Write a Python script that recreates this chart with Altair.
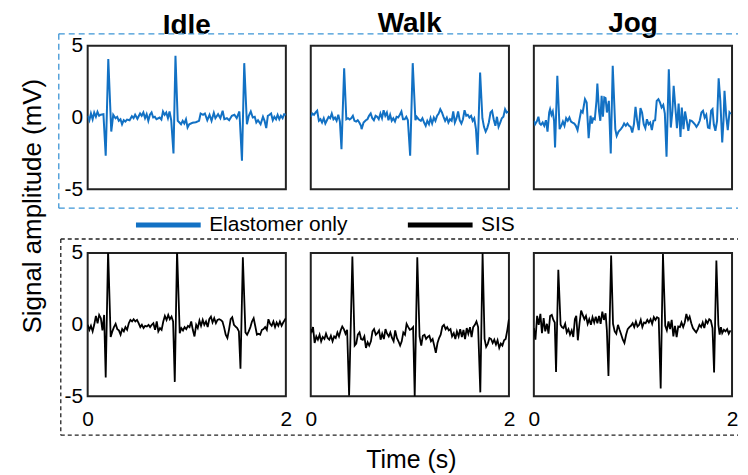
import altair as alt
import pandas as pd

FONT = "Liberation Sans, Arial, sans-serif"
BLUE = "#1271c4"
BOX_BLUE = "#3d95d6"

activities = ["Idle", "Walk", "Jog"]
series_names = ["Elastomer only", "SIS"]

# ---- Elastomer only (top row) ----
idle_elastomer_t = [0.000,0.017,0.033,0.050,0.066,0.083,0.099,0.116,0.132,0.159,0.182,0.208,0.238,0.258,0.281,0.298,0.314,0.331,0.347,0.364,0.380,0.397,0.423,0.446,0.463,0.479,0.502,0.529,0.545,0.562,0.579,0.595,0.612,0.628,0.645,0.661,0.678,0.694,0.727,0.744,0.760,0.777,0.793,0.810,0.826,0.843,0.866,0.886,0.909,0.926,0.942,0.959,0.975,0.992,1.008,1.025,1.058,1.091,1.124,1.140,1.164,1.183,1.207,1.230,1.250,1.273,1.289,1.316,1.339,1.362,1.379,1.405,1.428,1.455,1.481,1.504,1.531,1.557,1.580,1.607,1.626,1.646,1.666,1.686,1.702,1.719,1.745,1.769,1.785,1.802,1.818,1.835,1.851,1.868,1.884,1.901,1.917,1.934,1.950,1.967,1.983,2.000]
idle_elastomer_mv = [0.12,-0.19,0.28,-0.12,0.35,0.05,0.40,0.12,0.19,0.23,-2.67,4.07,-0.98,0.19,-0.05,0.05,-0.23,-0.12,-0.47,-0.19,-0.28,-0.14,-0.19,0.09,-0.05,0.19,-0.09,0.28,0.12,0.35,-0.05,0.23,-0.23,0.19,0.35,0.00,0.05,-0.12,0.00,-0.14,0.42,0.19,0.35,-0.05,0.42,-0.19,-2.51,4.30,-0.23,-0.35,-0.47,-0.23,-0.42,-0.12,-0.70,-0.47,-0.37,-0.33,-0.23,0.28,0.19,0.28,-0.19,0.19,-0.23,0.33,-0.05,0.23,-0.05,0.47,-0.12,-0.05,-0.19,0.12,0.19,-0.05,0.42,-3.02,3.79,-0.47,0.12,0.42,0.00,0.05,-0.35,-0.19,-0.47,0.05,-0.23,-0.74,0.12,0.19,0.28,-0.19,0.05,-0.12,0.19,-0.12,0.12,-0.05,0.23,0.19]

walk_elastomer_t = [0.000,0.016,0.033,0.049,0.065,0.082,0.098,0.114,0.131,0.147,0.163,0.180,0.196,0.212,0.229,0.245,0.261,0.278,0.294,0.310,0.337,0.359,0.376,0.392,0.408,0.425,0.441,0.458,0.474,0.490,0.507,0.513,0.533,0.556,0.572,0.588,0.605,0.621,0.637,0.654,0.670,0.686,0.703,0.719,0.735,0.752,0.768,0.784,0.801,0.817,0.833,0.850,0.866,0.882,0.899,0.915,0.931,0.948,0.964,0.980,1.003,1.029,1.056,1.069,1.088,1.111,1.127,1.144,1.160,1.176,1.193,1.209,1.225,1.242,1.258,1.275,1.291,1.307,1.324,1.340,1.356,1.373,1.389,1.405,1.422,1.438,1.454,1.471,1.487,1.503,1.520,1.536,1.552,1.569,1.585,1.601,1.618,1.634,1.650,1.667,1.683,1.709,1.732,1.748,1.765,1.781,1.797,1.814,1.830,1.846,1.863,1.879,1.895,1.912,1.928,1.944,1.961,1.977,1.993]
walk_elastomer_mv = [0.05,0.28,0.19,0.35,0.47,-0.23,-0.12,-0.35,-0.05,-0.42,-0.19,0.05,-0.05,0.28,-0.12,0.00,-0.23,0.19,-0.28,-2.21,3.44,-0.12,-0.05,-0.14,-0.05,0.12,-0.23,-0.28,-0.19,-0.35,-0.58,-0.81,-0.35,-0.19,-0.12,0.12,0.28,-0.05,-0.19,0.12,0.05,-0.12,0.28,-0.05,0.51,0.12,0.35,-0.19,0.19,-0.23,-0.05,-0.28,0.05,0.00,0.19,0.42,-0.12,-0.12,0.05,-0.19,-2.67,3.79,-0.19,0.05,-0.12,-0.23,-0.05,-0.35,-0.58,-0.23,-0.47,-0.05,-0.42,0.00,-0.23,0.12,0.28,0.58,0.35,0.05,-0.23,0.00,-0.35,-0.12,-0.23,0.42,-0.35,-0.05,0.42,-0.19,-0.42,-0.12,0.51,0.12,0.19,0.00,0.12,-0.23,-0.05,-0.81,-2.60,3.14,-0.05,-0.65,-0.98,-0.74,-0.35,0.35,0.47,-0.12,-0.58,0.05,-0.65,-0.35,-0.05,0.05,0.58,0.35,0.42]

jog_elastomer_t = [0.000,0.013,0.033,0.046,0.059,0.072,0.089,0.105,0.122,0.138,0.155,0.164,0.178,0.191,0.204,0.214,0.237,0.260,0.276,0.293,0.309,0.326,0.342,0.359,0.375,0.391,0.408,0.424,0.441,0.461,0.477,0.493,0.516,0.533,0.553,0.572,0.586,0.599,0.615,0.632,0.641,0.658,0.671,0.684,0.697,0.711,0.724,0.737,0.757,0.776,0.796,0.822,0.836,0.855,0.878,0.895,0.911,0.928,0.944,0.961,0.977,0.993,1.010,1.026,1.043,1.059,1.076,1.092,1.109,1.125,1.141,1.158,1.174,1.191,1.207,1.224,1.240,1.257,1.273,1.289,1.306,1.322,1.339,1.362,1.382,1.398,1.411,1.428,1.444,1.461,1.480,1.493,1.510,1.526,1.543,1.559,1.576,1.592,1.609,1.625,1.641,1.658,1.674,1.691,1.707,1.724,1.740,1.757,1.773,1.789,1.803,1.816,1.832,1.849,1.865,1.882,1.901,1.914,1.924,1.941,1.957,1.974,1.987]
jog_elastomer_mv = [-0.23,-0.47,-0.23,0.05,-0.42,-0.51,-0.35,-0.58,-0.19,-0.98,0.35,0.58,0.19,0.42,-0.23,-2.09,2.91,-0.81,-0.58,-0.28,-0.58,-0.05,-0.23,0.00,-0.28,-0.35,-0.42,-0.58,-0.88,-0.12,0.47,0.35,1.28,1.05,-1.44,0.12,-0.42,-0.05,-0.12,1.16,2.37,0.42,-0.23,1.51,0.05,1.40,1.35,0.35,1.16,-2.51,3.60,-0.81,-1.28,-0.98,-0.81,-0.65,-0.42,-0.58,-0.42,-0.58,-0.65,-1.05,-0.47,0.74,-0.23,-0.88,0.65,0.35,-0.47,-0.74,-0.12,-0.47,-0.35,-0.88,-0.23,-0.19,1.16,1.28,1.05,0.70,0.88,0.28,-2.74,3.37,-0.70,0.42,2.21,0.70,-0.74,0.98,-1.35,0.70,-0.81,0.42,-0.23,-0.93,-0.19,-0.23,-0.35,-0.47,-0.65,-0.47,-0.23,0.35,0.47,0.00,0.19,-0.70,-0.74,0.47,0.58,-0.47,-0.93,-0.23,2.74,1.16,-1.74,-0.23,1.86,0.12,-0.88,0.35,0.23]

# ---- SIS (bottom row) ----
idle_sis_t = [0.000,0.017,0.033,0.050,0.066,0.083,0.100,0.116,0.133,0.149,0.166,0.182,0.206,0.232,0.249,0.265,0.282,0.299,0.315,0.332,0.348,0.365,0.381,0.398,0.415,0.431,0.448,0.464,0.481,0.498,0.514,0.531,0.547,0.564,0.580,0.597,0.614,0.630,0.647,0.663,0.680,0.697,0.713,0.730,0.746,0.763,0.779,0.796,0.813,0.829,0.846,0.862,0.879,0.902,0.929,0.945,0.962,0.978,0.995,1.012,1.028,1.045,1.061,1.078,1.095,1.111,1.128,1.144,1.161,1.177,1.194,1.211,1.227,1.244,1.260,1.277,1.294,1.310,1.327,1.343,1.360,1.376,1.393,1.410,1.426,1.443,1.459,1.476,1.493,1.509,1.526,1.542,1.566,1.592,1.609,1.625,1.642,1.658,1.675,1.692,1.708,1.725,1.741,1.758,1.774,1.791,1.808,1.824,1.841,1.857,1.874,1.891,1.907,1.924,1.940,1.957,1.973,2.000]
idle_sis_mv = [0.00,-0.36,-0.08,-0.47,-0.01,0.61,0.10,0.68,0.45,-0.40,0.68,-3.69,5.20,-0.86,-0.47,-0.17,0.06,-0.31,-0.40,-0.70,-0.31,-0.47,-0.17,-0.36,0.10,0.33,0.22,0.38,0.22,0.33,0.10,-0.17,-0.01,-0.24,-0.08,-0.13,-0.01,-0.17,-0.01,0.10,-0.36,0.22,-0.47,-0.24,-0.36,0.22,0.61,0.33,0.68,0.38,0.56,0.22,-3.99,5.20,-0.59,-0.24,-0.40,-0.17,-0.31,-0.08,-0.17,0.22,-0.36,-0.82,-0.01,-0.24,0.29,-0.08,0.33,-0.01,0.22,-0.17,0.38,0.56,0.15,0.45,0.10,0.33,0.38,0.33,0.22,-0.17,-0.70,-0.93,-0.36,0.38,0.52,-0.01,-0.13,-0.24,-0.47,-3.07,4.70,-0.54,-0.70,-0.47,-0.17,0.22,0.45,-0.13,-0.70,-0.63,-0.70,-0.36,-0.31,-0.17,-0.36,0.38,0.06,-0.08,0.22,-0.17,0.15,-0.08,0.22,-0.08,0.15,0.45]

walk_sis_t = [0.000,0.010,0.023,0.039,0.056,0.072,0.089,0.105,0.121,0.138,0.154,0.170,0.187,0.203,0.220,0.236,0.252,0.269,0.285,0.302,0.318,0.334,0.351,0.367,0.387,0.420,0.443,0.459,0.475,0.492,0.508,0.525,0.541,0.557,0.574,0.590,0.607,0.623,0.639,0.656,0.672,0.689,0.705,0.721,0.738,0.754,0.770,0.787,0.803,0.820,0.836,0.852,0.869,0.885,0.902,0.918,0.934,0.951,0.967,0.984,1.000,1.016,1.033,1.049,1.075,1.098,1.115,1.131,1.148,1.164,1.180,1.197,1.213,1.230,1.246,1.262,1.279,1.295,1.311,1.328,1.344,1.361,1.377,1.393,1.410,1.426,1.443,1.459,1.475,1.492,1.508,1.525,1.541,1.557,1.574,1.590,1.607,1.623,1.639,1.656,1.672,1.689,1.711,1.734,1.754,1.770,1.787,1.803,1.820,1.836,1.852,1.869,1.885,1.902,1.918,1.934,1.951,1.967,1.984,2.000]
walk_sis_mv = [-0.31,-0.47,-0.17,-1.28,-0.82,-1.05,-0.70,-1.16,-0.86,-1.00,-0.63,-0.93,-1.05,-0.77,-1.16,-0.82,-0.93,-0.54,-0.82,-0.40,-0.13,-0.31,-0.63,-0.36,-4.95,4.75,-1.46,-1.32,-0.70,-0.54,-1.00,-1.05,-0.82,-1.62,-1.23,-1.46,-1.16,-0.47,-0.31,-0.70,-0.59,-0.40,-1.05,-0.63,-1.00,-0.31,-0.63,-0.82,-0.54,-0.93,-1.16,-0.40,-0.93,-1.16,-1.46,-1.16,-0.54,-0.70,0.06,-0.17,-0.36,-0.31,-0.17,-5.00,4.70,-0.82,-1.46,-0.77,-0.70,-1.00,-0.86,-0.77,-1.16,-1.00,-1.46,-1.97,-1.28,-0.93,-0.70,-0.13,-0.01,-0.31,-0.17,-0.40,-0.31,-0.82,-0.59,-1.00,-0.47,-0.82,-0.31,-0.86,-0.36,-1.00,-0.24,-0.63,-0.17,-0.86,-0.17,-0.01,0.22,-0.17,-4.72,4.98,-1.00,-1.55,-1.32,-0.93,-1.00,-1.28,-1.05,-1.39,-1.09,-1.62,-1.32,-1.46,-1.09,-1.00,-0.36,0.38]

jog_sis_t = [0.000,0.016,0.033,0.049,0.066,0.082,0.099,0.115,0.132,0.148,0.164,0.181,0.197,0.211,0.224,0.247,0.270,0.283,0.299,0.316,0.332,0.349,0.365,0.382,0.398,0.414,0.428,0.444,0.461,0.477,0.493,0.510,0.526,0.543,0.559,0.576,0.592,0.609,0.625,0.641,0.658,0.674,0.691,0.707,0.724,0.737,0.753,0.780,0.799,0.816,0.832,0.849,0.865,0.882,0.898,0.914,0.931,0.947,0.964,0.980,0.997,1.013,1.030,1.046,1.063,1.079,1.095,1.112,1.128,1.145,1.161,1.178,1.194,1.211,1.227,1.243,1.260,1.280,1.303,1.326,1.342,1.359,1.375,1.391,1.408,1.424,1.441,1.457,1.474,1.490,1.507,1.523,1.539,1.556,1.572,1.589,1.605,1.622,1.638,1.655,1.671,1.688,1.704,1.720,1.737,1.753,1.770,1.786,1.803,1.819,1.842,1.862,1.875,1.888,1.901,1.918,1.934,1.951,1.967,1.984]
jog_sis_mv = [-0.24,-1.05,0.61,-0.01,0.75,-0.59,0.45,-0.47,0.06,-0.63,0.61,0.68,0.33,0.15,-3.30,3.83,-0.01,-0.17,-0.24,0.06,-0.54,-0.31,-0.70,-0.40,-0.86,0.38,0.61,-1.09,0.10,0.98,0.68,0.38,0.61,0.06,0.38,-0.01,0.52,0.15,0.56,0.10,0.61,0.06,0.91,0.33,0.79,-0.40,-3.57,4.82,0.06,-0.47,-0.63,-0.01,-0.36,-0.70,-1.05,-1.28,-0.70,-0.31,-0.17,-0.08,0.10,-0.17,0.22,-0.13,-0.01,0.33,-0.17,0.15,0.10,0.33,0.15,0.38,0.06,0.52,0.33,0.52,0.45,-4.45,4.93,-0.08,-0.40,0.22,-0.31,0.33,-0.82,-0.08,-0.86,-0.13,-0.17,0.15,-0.17,0.15,0.75,0.33,0.56,0.10,-0.24,-0.40,-0.54,-0.31,-0.01,-0.17,0.15,-0.24,0.29,0.10,0.38,0.29,-0.24,-3.34,4.47,-0.01,-0.70,-0.17,-0.59,-0.36,-0.47,-0.31,-0.63,-0.40]

x_ticks = [0, 2]
y_ticks = [-5, 0, 5]
y_axis_title = "Signal amplitude (mV)"
x_axis_title = "Time (s)"

PANEL_W, PANEL_H = 199, 144

color_scale = alt.Scale(domain=series_names, range=[BLUE, "#000000"])
legend = alt.Legend(
    title=None, orient="none", legendX=46, legendY=145, direction="horizontal",
    symbolType="stroke", symbolSize=4225, symbolStrokeWidth=5,
    labelFontSize=21, labelFont=FONT, labelColor="black", labelOffset=6,
    labelLimit=300, columnPadding=50, padding=0,
)


def panel(t, mv, series, show_x, show_y, width):
    n = min(len(t), len(mv))
    df = pd.DataFrame({"t": t[:n], "mv": mv[:n], "series": [series] * n})
    x_axis = alt.Axis(values=x_ticks, title=None, ticks=False, domain=False, grid=False,
                      labelFlush=False, labelFontSize=21, labelPadding=12,
                      labelExpr="datum.value + ''") if show_x else None
    y_axis = alt.Axis(values=y_ticks, title=None, ticks=False, domain=False, grid=False,
                      labelFontSize=21, labelPadding=5,
                      labelExpr="datum.value + ''") if show_y else None
    return alt.Chart(df).mark_line(strokeWidth=2 if series == series_names[0] else 1.8, clip=True).encode(
        x=alt.X("t:Q", scale=alt.Scale(domain=[0, 2], nice=False, zero=False), axis=x_axis),
        y=alt.Y("mv:Q", scale=alt.Scale(domain=[-5, 5], nice=False, zero=False), axis=y_axis),
        color=alt.Color("series:N", scale=color_scale, legend=legend),
    ).properties(width=width, height=PANEL_H)


one = pd.DataFrame({"k": [0]})


def hrule(color, dash, x1, x2, y):
    return alt.Chart(one).mark_rule(color=color, strokeDash=dash, strokeWidth=1.3).encode(
        x=alt.value(x1), x2=alt.value(x2), y=alt.value(y))


def vrule(color, dash, x, y1, y2):
    return alt.Chart(one).mark_rule(color=color, strokeDash=dash, strokeWidth=1.3).encode(
        x=alt.value(x), y=alt.value(y1), y2=alt.value(y2))


# decorations drawn relative to the bottom-left (Idle / SIS) panel
decor = [
    hrule(BOX_BLUE, [6, 4], -29, 653, -220),
    hrule(BOX_BLUE, [6, 4], -29, 653, -45),
    vrule(BOX_BLUE, [6, 4], -29, -220, -45),
    hrule("#222222", [4, 3], -27, 653, -14),
    hrule("#222222", [4, 3], -27, 653, 183),
    vrule("#222222", [4, 3], -27, -14, 183),
]

ytitle = alt.Chart(pd.DataFrame({"label": [y_axis_title]})).mark_text(
    angle=270, fontSize=26, font=FONT, align="center", baseline="middle", color="black"
).encode(text="label:N", x=alt.value(-55), y=alt.value(-47))

xtitle = alt.Chart(pd.DataFrame({"label": [x_axis_title]})).mark_text(
    fontSize=25, font=FONT, align="center", baseline="middle", color="black"
).encode(text="label:N", x=alt.value(325), y=alt.value(208))

top_data = [(idle_elastomer_t, idle_elastomer_mv), (walk_elastomer_t, walk_elastomer_mv), (jog_elastomer_t, jog_elastomer_mv)]
bot_data = [(idle_sis_t, idle_sis_mv), (walk_sis_t, walk_sis_mv), (jog_sis_t, jog_sis_mv)]

panels = []
for i, (t, mv) in enumerate(top_data):
    p = panel(t, mv, series_names[0], False, i == 0, PANEL_W)
    # the left panel's y labels raise its bounds, so its title needs a smaller offset
    panels.append(p.properties(title=alt.TitleParams(activities[i], offset=-5 if i == 0 else 8)))
for i, (t, mv) in enumerate(bot_data):
    p = panel(t, mv, series_names[1], True, i == 0, PANEL_W)
    if i == 0:
        p = alt.layer(*decor, p, ytitle, xtitle).properties(width=PANEL_W, height=PANEL_H)
    panels.append(p)

chart = alt.concat(
    *panels, columns=3, spacing={"row": 64, "column": 25}, bounds="flush"
).resolve_scale(color="shared").properties(
    padding={"left": 10, "top": 0, "right": 0, "bottom": 0}
).configure_view(
    stroke="#222222", strokeWidth=2
).configure_title(
    fontSize=28, font=FONT, fontWeight="bold", color="black", anchor="middle"
).configure_axis(
    labelFont=FONT, labelColor="black"
)

chart.save("out.html", embed_options={"renderer": "svg", "actions": False})
